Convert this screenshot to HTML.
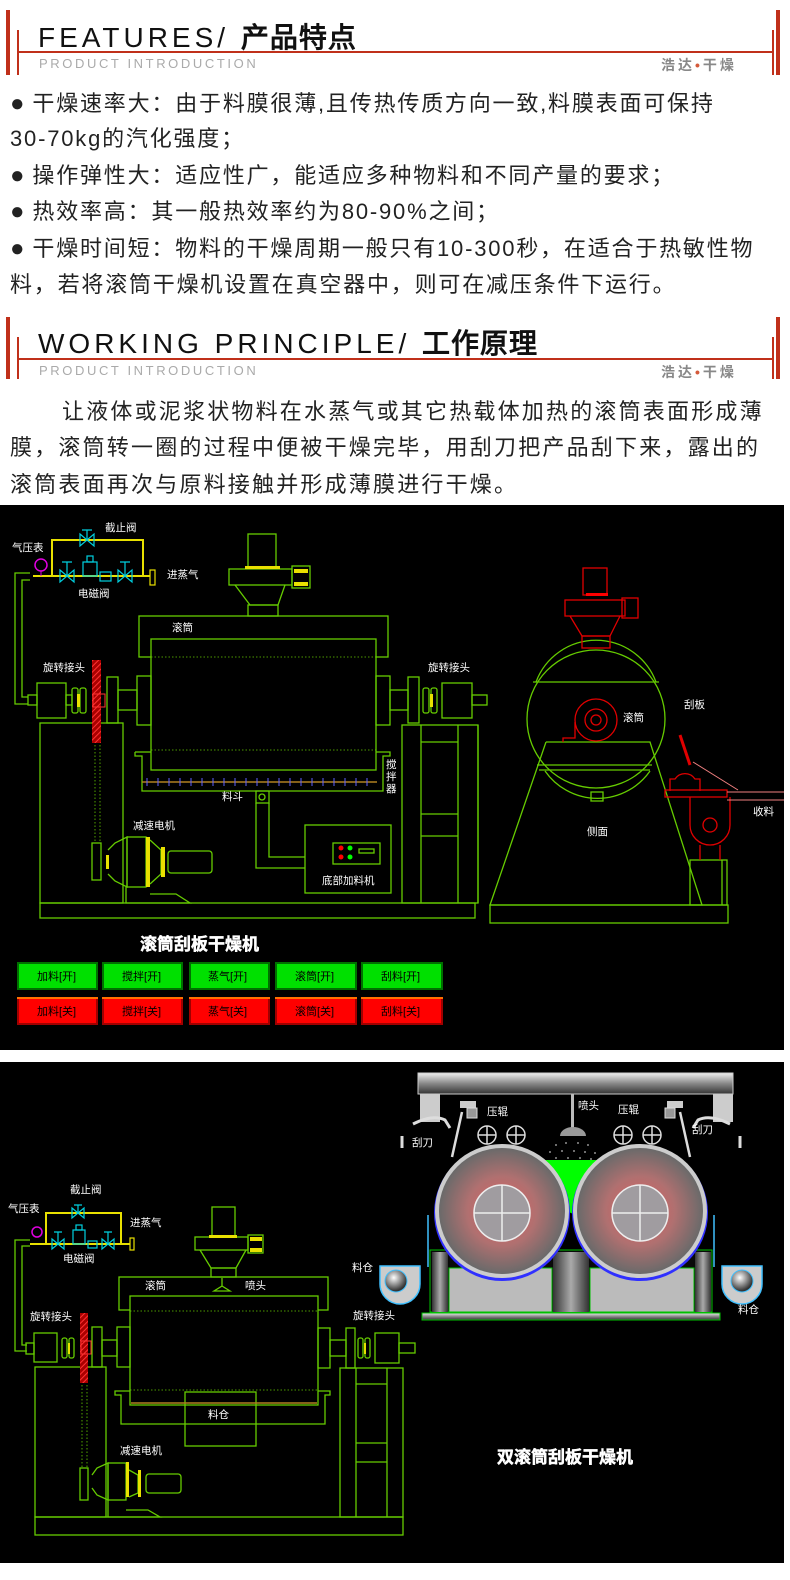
<!DOCTYPE html>
<html><head><meta charset="utf-8">
<style>
*{margin:0;padding:0;box-sizing:border-box}
body{width:790px;height:1580px;background:#fff;position:relative;overflow:hidden;font-family:"Liberation Sans","Noto Sans CJK SC",sans-serif}
.a{position:absolute;white-space:nowrap}
.t{font-size:22px;color:#222;letter-spacing:1.8px;line-height:22px}
.t i{font-style:normal;font-size:24px;font-weight:bold;letter-spacing:0}
.p{font-size:22px;color:#222;letter-spacing:2.2px;line-height:22px}
b{-webkit-text-stroke:1px #111}
</style></head><body>

<!-- header 1 -->
<div class="a" style="left:6px;top:10px;width:4px;height:65px;background:#c0301a"></div>
<div class="a" style="left:17px;top:30px;width:2px;height:45px;background:#c0301a"></div>
<div class="a" style="left:17px;top:51px;width:757px;height:2px;background:#c0301a"></div>
<div class="a" style="left:772px;top:30px;width:2px;height:45px;background:#c0301a"></div>
<div class="a" style="left:776px;top:10px;width:4px;height:65px;background:#c0301a"></div>
<div class="a" style="left:38px;top:16px;font-size:28px;letter-spacing:4px;color:#111;font-weight:300">FEATURES/ <b style="letter-spacing:1px">产品特点</b></div>
<div class="a" style="left:39px;top:56px;font-size:13px;letter-spacing:2.6px;color:#aaa">PRODUCT INTRODUCTION</div>
<div class="a" style="left:661px;top:55px;font-size:14px;letter-spacing:3px;color:#888;font-weight:bold">浩达<span style="color:#d45a3a">•</span>干燥</div>

<div class="a t" style="left:10px;top:93px"><i>●</i>&nbsp;干燥速率大：由于料膜很薄,且传热传质方向一致,料膜表面可保持</div>
<div class="a t" style="left:10px;top:128px">30-70kg的汽化强度；</div>
<div class="a t" style="left:10px;top:165px"><i>●</i>&nbsp;操作弹性大：适应性广，能适应多种物料和不同产量的要求；</div>
<div class="a t" style="left:10px;top:201px"><i>●</i>&nbsp;热效率高：其一般热效率约为80-90%之间；</div>
<div class="a t" style="left:10px;top:238px"><i>●</i>&nbsp;干燥时间短：物料的干燥周期一般只有10-300秒，在适合于热敏性物</div>
<div class="a t" style="left:10px;top:274px">料，若将滚筒干燥机设置在真空器中，则可在减压条件下运行。</div>

<!-- header 2 -->
<div class="a" style="left:6px;top:317px;width:4px;height:62px;background:#c0301a"></div>
<div class="a" style="left:17px;top:337px;width:2px;height:42px;background:#c0301a"></div>
<div class="a" style="left:17px;top:358px;width:757px;height:2px;background:#c0301a"></div>
<div class="a" style="left:772px;top:337px;width:2px;height:42px;background:#c0301a"></div>
<div class="a" style="left:776px;top:317px;width:4px;height:62px;background:#c0301a"></div>
<div class="a" style="left:38px;top:322px;font-size:28px;letter-spacing:4px;color:#111;font-weight:300">WORKING PRINCIPLE/ <b style="letter-spacing:1px">工作原理</b></div>
<div class="a" style="left:39px;top:363px;font-size:13px;letter-spacing:2.6px;color:#aaa">PRODUCT INTRODUCTION</div>
<div class="a" style="left:661px;top:362px;font-size:14px;letter-spacing:3px;color:#888;font-weight:bold">浩达<span style="color:#d45a3a">•</span>干燥</div>

<div class="a p" style="left:62px;top:401px">让液体或泥浆状物料在水蒸气或其它热载体加热的滚筒表面形成薄</div>
<div class="a p" style="left:10px;top:437px">膜，滚筒转一圈的过程中便被干燥完毕，用刮刀把产品刮下来，露出的</div>
<div class="a p" style="left:10px;top:474px">滚筒表面再次与原料接触并形成薄膜进行干燥。</div>

<svg class="a" style="left:0;top:0" width="790" height="1580" viewBox="0 0 790 1580" font-family="Liberation Sans,Noto Sans CJK SC,sans-serif">
<defs>
<radialGradient id="dr" cx="50%" cy="50%" r="50%"><stop offset="0" stop-color="#e06060"/><stop offset="0.55" stop-color="#b07070"/><stop offset="1" stop-color="#6a6a6a"/></radialGradient>
<linearGradient id="bm" x1="0" y1="0" x2="0" y2="1"><stop offset="0" stop-color="#eee"/><stop offset="0.5" stop-color="#888"/><stop offset="1" stop-color="#333"/></linearGradient>
<linearGradient id="col" x1="0" y1="0" x2="1" y2="0"><stop offset="0" stop-color="#333"/><stop offset="0.5" stop-color="#aaa"/><stop offset="1" stop-color="#333"/></linearGradient>
<radialGradient id="ball" cx="40%" cy="35%" r="60%"><stop offset="0" stop-color="#fff"/><stop offset="1" stop-color="#333"/></radialGradient>
<pattern id="hat" width="4" height="4" patternUnits="userSpaceOnUse" patternTransform="rotate(45)"><rect width="4" height="4" fill="#a00"/><line x1="0" y1="0" x2="0" y2="4" stroke="#f33" stroke-width="2"/></pattern>
</defs>

<!-- PANEL 1 -->
<rect x="0" y="505" width="784" height="545" fill="#000"/>
<g fill="none" stroke="#66cc00" stroke-width="1.3">
<polyline points="30,573 15,573 15,704 28,704"/>
<polyline points="30,580 22,580 22,697 28,697"/>
<rect x="248" y="534" width="28" height="34"/>
<rect x="229" y="569" width="63" height="16"/>
<rect x="292" y="566" width="18" height="22"/>
<polyline points="235,585 250,605 278,605 285,585"/>
<rect x="248" y="605" width="30" height="11"/>
<rect x="139" y="616" width="249" height="41"/>
<rect x="151" y="639" width="225" height="131" fill="#000"/>
<polyline points="135,752 135,756 142,756 142,791 383,791 383,756 390,756 390,752 376,752"/>
<line x1="151" y1="752" x2="135" y2="752"/>
<rect x="256" y="791" width="13" height="12"/>
<circle cx="262" cy="797" r="3"/>
<polyline points="256,803 256,868 305,868"/>
<polyline points="269,803 269,857 305,857"/>
<rect x="305" y="825" width="86" height="68"/>
<rect x="333" y="843" width="47" height="21"/>
<rect x="359" y="849" width="15" height="4"/>
<rect x="28" y="695" width="9" height="10"/>
<rect x="37" y="683" width="29" height="35"/>
<rect x="66" y="695" width="6" height="10"/>
<rect x="72" y="688" width="6" height="25" rx="2"/>
<rect x="80" y="688" width="6" height="25" rx="2"/>
<rect x="107" y="677" width="11" height="46"/>
<rect x="118" y="690" width="19" height="20"/>
<rect x="137" y="676" width="14" height="49"/>
<rect x="376" y="676" width="14" height="49"/>
<rect x="390" y="690" width="18" height="20"/>
<rect x="408" y="677" width="11" height="46"/>
<rect x="423" y="688" width="6" height="25" rx="2"/>
<rect x="431" y="688" width="6" height="25" rx="2"/>
<rect x="442" y="683" width="30" height="35"/>
<rect x="472" y="695" width="15" height="10"/>
<rect x="40" y="723" width="83" height="180"/>
<rect x="402" y="725" width="76" height="178"/>
<line x1="421" y1="725" x2="421" y2="903"/><line x1="458" y1="725" x2="458" y2="903"/>
<line x1="421" y1="742" x2="458" y2="742"/><line x1="421" y1="814" x2="458" y2="814"/><line x1="421" y1="836" x2="458" y2="836"/>
<rect x="40" y="903" width="435" height="15"/>
<rect x="92" y="843" width="9" height="37"/>
<polyline points="108,850 115,843 127,837 127,887 115,881 108,874"/>
<rect x="127" y="837" width="19" height="50"/>
<polyline points="150,840 161,850 161,874 150,884"/>
<rect x="168" y="851" width="44" height="22" rx="3"/>
<polyline points="126,887 126,903 190,903 176,894 150,894"/>
<circle cx="596" cy="719" r="69"/>
<path d="M536,682 A64,64 0 0 1 656,682"/>
<line x1="533" y1="682" x2="659" y2="682"/>
<polyline points="546,742 650,742 702,905 490,905 546,742"/>
<line x1="537" y1="765" x2="652" y2="765"/><line x1="539" y1="770" x2="650" y2="770"/>
<path d="M545,771 A64,64 0 0 0 650,771"/>
<rect x="591" y="792" width="12" height="9"/>
<rect x="490" y="905" width="238" height="18"/>
<rect x="690" y="860" width="37" height="45"/>
<line x1="722" y1="860" x2="722" y2="905"/>
<line x1="478" y1="725" x2="478" y2="903"/>
</g>
<g stroke="#66cc00" stroke-width="0.8" stroke-dasharray="1.5,2" fill="none">
<line x1="151" y1="657" x2="376" y2="657"/><line x1="151" y1="750" x2="376" y2="750"/>
<line x1="95" y1="745" x2="95" y2="843"/><line x1="100" y1="745" x2="100" y2="843"/>
</g>
<line x1="142" y1="782" x2="377" y2="782" stroke="#b08020" stroke-width="1.5"/>
<g stroke="#6060ff" stroke-width="1">
<path d="M147,778v8M158,778v8M169,778v8M180,778v8M191,778v8M202,778v8M213,778v8M224,778v8M235,778v8M246,778v8M257,778v8M268,778v8M279,778v8M290,778v8M301,778v8M312,778v8M323,778v8M334,778v8M345,778v8M356,778v8M367,778v8"/>
</g>
<g fill="none" stroke="#e8e000" stroke-width="2">
<line x1="33" y1="576" x2="150" y2="576"/>
<polyline points="52,576 52,540 143,540 143,576"/>
<rect x="150" y="570" width="5" height="15" stroke-width="1.2"/>
</g>
<g fill="#e8e000">
<rect x="245" y="566" width="35" height="3"/><rect x="294" y="569" width="14" height="4"/><rect x="294" y="582" width="14" height="4"/>
<rect x="77" y="694" width="3" height="13"/><rect x="430" y="694" width="3" height="13"/>
<rect x="146" y="837" width="4" height="50"/><rect x="161" y="847" width="4" height="30"/><rect x="106" y="855" width="3" height="14"/>
</g>
<g fill="none" stroke="#00d0e0" stroke-width="1.2">
<path d="M60,570 l14,12 v-12 l-14,12z M118,570 l14,12 v-12 l-14,12z M80,534 l14,12 v-12 l-14,12z"/>
<path d="M67,576v-14h-5h10 M125,576v-14h-5h10 M87,540v-10h-5h10"/>
<rect x="83" y="562" width="14" height="14"/><rect x="87" y="556" width="6" height="6"/>
<rect x="100" y="572" width="11" height="9"/>
</g>
<circle cx="41" cy="565" r="6" fill="none" stroke="#e000e0" stroke-width="1.5"/>
<line x1="41" y1="571" x2="41" y2="576" stroke="#e000e0"/>
<rect x="92" y="660" width="9" height="83" fill="url(#hat)"/>
<rect x="93" y="694" width="12" height="13" fill="none" stroke="#f33"/>
<g fill="#f00" stroke="none"><circle cx="341" cy="848" r="2.5"/><circle cx="341" cy="857" r="2.5"/></g>
<g fill="#0f0"><circle cx="350" cy="848" r="2.5"/><circle cx="350" cy="857" r="2.5"/></g>
<g fill="none" stroke="#e00000" stroke-width="1.3">
<rect x="583" y="568" width="24" height="27"/>
<rect x="565" y="600" width="60" height="16"/>
<rect x="622" y="598" width="16" height="20"/>
<polyline points="570,616 582,636 610,636 620,616"/>
<rect x="582" y="636" width="28" height="12"/>
<circle cx="596" cy="720" r="21"/><circle cx="596" cy="720" r="11"/><circle cx="596" cy="720" r="5"/>
<polyline points="563,742 563,738 575,738 575,722 M617,722 617,738 630,738 630,742"/>
<line x1="680" y1="735" x2="690" y2="765" stroke-width="3"/>
<path d="M670,791 v-12 h5 a12,12 0 0 1 20,0 h5 v12"/>
<rect x="665" y="790" width="62" height="7"/>
<path d="M690,797 v28 a20,20 0 0 0 40,0 v-28"/>
<circle cx="710" cy="825" r="7"/>
<line x1="700" y1="845" x2="700" y2="860"/><line x1="720" y1="845" x2="720" y2="860"/>
</g>
<g stroke="#f08080" fill="none"><line x1="693" y1="762" x2="738" y2="790"/><line x1="727" y1="792" x2="784" y2="792"/><line x1="727" y1="800" x2="784" y2="800"/></g>
<rect x="586" y="593" width="22" height="3" fill="#f00"/>
<g fill="#fff" font-size="10.5">
<text x="12" y="551">气压表</text><text x="105" y="531">截止阀</text><text x="167" y="578">进蒸气</text><text x="78" y="597">电磁阀</text>
<text x="172" y="631">滚筒</text><text x="43" y="671">旋转接头</text><text x="428" y="671">旋转接头</text>
<text x="386" y="768">搅</text><text x="386" y="780">拌</text><text x="386" y="792">器</text>
<text x="222" y="800">料斗</text><text x="133" y="829">减速电机</text><text x="322" y="884">底部加料机</text>
<text x="623" y="721">滚筒</text><text x="684" y="708">刮板</text><text x="587" y="835">侧面</text><text x="753" y="815">收料</text>
</g>
<text x="140" y="950" fill="#fff" font-size="17" font-weight="bold" stroke="#fff" stroke-width="0.5">滚筒刮板干燥机</text>
<g font-size="11" fill="#000">
<g stroke-width="2">
<rect x="18" y="963" width="79" height="26" fill="#00e000" stroke="#007000"/><rect x="103" y="963" width="79" height="26" fill="#00e000" stroke="#007000"/><rect x="190" y="963" width="79" height="26" fill="#00e000" stroke="#007000"/><rect x="276" y="963" width="80" height="26" fill="#00e000" stroke="#007000"/><rect x="362" y="963" width="80" height="26" fill="#00e000" stroke="#007000"/>
<rect x="18" y="998" width="79" height="26" fill="#ff0000" stroke="#a00000"/><rect x="103" y="998" width="79" height="26" fill="#ff0000" stroke="#a00000"/><rect x="190" y="998" width="79" height="26" fill="#ff0000" stroke="#a00000"/><rect x="276" y="998" width="80" height="26" fill="#ff0000" stroke="#a00000"/><rect x="362" y="998" width="80" height="26" fill="#ff0000" stroke="#a00000"/>
</g>
<g fill="#ff7000"><rect x="17" y="997" width="81" height="2"/><rect x="102" y="997" width="81" height="2"/><rect x="189" y="997" width="81" height="2"/><rect x="275" y="997" width="82" height="2"/><rect x="361" y="997" width="82" height="2"/></g>
<text x="37" y="980">加料[开]</text><text x="122" y="980">搅拌[开]</text><text x="208" y="980">蒸气[开]</text><text x="295" y="980">滚筒[开]</text><text x="381" y="980">刮料[开]</text>
<text x="37" y="1015">加料[关]</text><text x="122" y="1015">搅拌[关]</text><text x="208" y="1015">蒸气[关]</text><text x="295" y="1015">滚筒[关]</text><text x="381" y="1015">刮料[关]</text>
</g>

<!-- PANEL 2 -->
<rect x="0" y="1062" width="784" height="501" fill="#000"/>
<g fill="none" stroke="#66cc00" stroke-width="1.3">
<polyline points="30,1240 15,1240 15,1351 27,1351"/>
<polyline points="30,1246 22,1246 22,1345 27,1345"/>
<rect x="212" y="1207" width="23" height="30"/>
<rect x="195" y="1237" width="53" height="13"/>
<rect x="248" y="1235" width="15" height="18"/>
<polyline points="200,1250 211,1268 236,1268 246,1250"/>
<rect x="211" y="1268" width="25" height="9"/>
<rect x="119" y="1277" width="209" height="33"/>
<rect x="130" y="1296" width="188" height="109" fill="#000"/>
<polyline points="130,1391 115,1391 115,1395 121,1395 121,1424 325,1424 325,1395 330,1395 330,1391 318,1391"/>
<rect x="185" y="1392" width="71" height="54"/>
<path d="M222,1278 v8 l-8,5 h16 l-8,-5"/>
<rect x="26" y="1343" width="8" height="11"/>
<rect x="34" y="1333" width="23" height="29"/>
<rect x="62" y="1338" width="5" height="20" rx="2"/><rect x="69" y="1338" width="5" height="20" rx="2"/>
<rect x="92" y="1327" width="10" height="40"/>
<rect x="102" y="1340" width="15" height="16"/>
<rect x="117" y="1327" width="13" height="40"/>
<rect x="318" y="1328" width="12" height="40"/>
<rect x="330" y="1340" width="16" height="16"/>
<rect x="346" y="1328" width="9" height="40"/>
<rect x="358" y="1338" width="5" height="20" rx="2"/><rect x="365" y="1338" width="5" height="20" rx="2"/>
<rect x="375" y="1333" width="24" height="30"/>
<rect x="399" y="1343" width="16" height="10"/>
<rect x="35" y="1367" width="71" height="150"/>
<rect x="340" y="1368" width="63" height="149"/>
<line x1="356" y1="1368" x2="356" y2="1517"/><line x1="387" y1="1368" x2="387" y2="1517"/>
<line x1="356" y1="1384" x2="387" y2="1384"/><line x1="356" y1="1443" x2="387" y2="1443"/><line x1="356" y1="1462" x2="387" y2="1462"/>
<rect x="35" y="1517" width="368" height="18"/>
<rect x="80" y="1468" width="8" height="32"/>
<polyline points="92,1475 97,1468 108,1463 108,1500 97,1495 92,1488"/>
<rect x="108" y="1463" width="18" height="37"/>
<polyline points="129,1470 138,1475 138,1493 129,1497"/>
<rect x="146" y="1474" width="35" height="19" rx="3"/>
<polyline points="108,1500 108,1517 160,1517 148,1510 126,1510"/>
</g>
<g stroke="#66cc00" stroke-width="0.8" stroke-dasharray="1.5,2" fill="none">
<line x1="130" y1="1311" x2="318" y2="1311"/><line x1="130" y1="1390" x2="318" y2="1390"/>
<line x1="82" y1="1385" x2="82" y2="1468"/><line x1="87" y1="1385" x2="87" y2="1468"/>
</g>
<line x1="131" y1="1403" x2="317" y2="1403" stroke="#b08020" stroke-width="1.5"/>
<g fill="none" stroke="#e8e000" stroke-width="2">
<line x1="30" y1="1244" x2="130" y2="1244"/>
<polyline points="46,1244 46,1213 121,1213 121,1244"/>
<rect x="130" y="1238" width="4" height="12" stroke-width="1.2"/>
</g>
<g fill="#e8e000">
<rect x="209" y="1235" width="28" height="3"/><rect x="250" y="1237" width="12" height="4"/><rect x="250" y="1248" width="12" height="4"/>
<rect x="68" y="1343" width="2" height="11"/><rect x="364" y="1343" width="2" height="11"/>
<rect x="126" y="1462" width="3" height="35"/><rect x="138" y="1470" width="3" height="27"/>
</g>
<g fill="none" stroke="#00d0e0" stroke-width="1.2">
<path d="M52,1239 l12,10 v-10 l-12,10z M102,1239 l12,10 v-10 l-12,10z M72,1208 l12,10 v-10 l-12,10z"/>
<path d="M58,1244v-12h-4h8 M108,1244v-12h-4h8 M78,1213v-8h-4h8"/>
<rect x="73" y="1230" width="12" height="14"/><rect x="76" y="1225" width="6" height="5"/><rect x="88" y="1241" width="9" height="7"/>
</g>
<circle cx="37" cy="1232" r="5" fill="none" stroke="#e000e0" stroke-width="1.5"/>
<rect x="80" y="1313" width="8" height="70" fill="url(#hat)"/>
<rect x="81" y="1341" width="10" height="13" fill="none" stroke="#f33"/>

<rect x="418" y="1073" width="315" height="21" fill="url(#bm)" stroke="#ccc"/>
<rect x="420" y="1094" width="20" height="28" fill="#ccc"/><rect x="713" y="1094" width="20" height="28" fill="#ccc"/>
<rect x="571" y="1094" width="3" height="34" fill="#bbb"/>
<path d="M560,1136 a13,9 0 0 1 26,0z" fill="#999"/>
<g fill="#bbb"><circle cx="556" cy="1145" r="0.9"/><circle cx="566" cy="1143" r="0.9"/><circle cx="578" cy="1143" r="0.9"/><circle cx="588" cy="1145" r="0.9"/><circle cx="550" cy="1152" r="0.9"/><circle cx="562" cy="1151" r="0.9"/><circle cx="574" cy="1151" r="0.9"/><circle cx="585" cy="1152" r="0.9"/><circle cx="595" cy="1153" r="0.9"/><circle cx="556" cy="1158" r="0.9"/><circle cx="568" cy="1158" r="0.9"/><circle cx="580" cy="1158" r="0.9"/><circle cx="591" cy="1159" r="0.9"/></g>
<polygon points="545,1160 600,1160 575,1215 565,1210" fill="#00ff00"/>
<rect x="430" y="1250" width="282" height="62" fill="#0a0a0a" stroke="#00c000"/>
<rect x="449" y="1268" width="103" height="44" fill="#bbb" stroke="#00c000"/>
<rect x="590" y="1268" width="104" height="44" fill="#bbb" stroke="#00c000"/>
<rect x="432" y="1252" width="16" height="60" fill="url(#col)"/><rect x="553" y="1252" width="36" height="60" fill="url(#col)"/><rect x="695" y="1252" width="16" height="60" fill="url(#col)"/>
<rect x="422" y="1313" width="298" height="7" fill="url(#bm)" stroke="#00c000"/>
<circle cx="502" cy="1213" r="68" fill="#3030ff"/>
<circle cx="640" cy="1213" r="68" fill="#3030ff"/>
<circle cx="502" cy="1211" r="67" fill="#ccc"/>
<circle cx="640" cy="1211" r="67" fill="#ccc"/>
<circle cx="502" cy="1211" r="63" fill="url(#dr)"/>
<circle cx="640" cy="1211" r="63" fill="url(#dr)"/>
<g fill="#a09ca0" stroke="#eee" stroke-width="1.5">
<circle cx="502" cy="1213" r="28"/><circle cx="640" cy="1213" r="28"/>
<path d="M502,1185v56M474,1213h56M640,1185v56M612,1213h56" fill="none"/>
</g>
<g fill="none" stroke="#ddd" stroke-width="1.5">
<circle cx="487" cy="1135" r="9"/><circle cx="516" cy="1135" r="9"/><circle cx="623" cy="1135" r="9"/><circle cx="652" cy="1135" r="9"/>
<path d="M487,1126v18M478,1135h18M516,1126v18M507,1135h18M623,1126v18M614,1135h18M652,1126v18M643,1135h18"/>
<line x1="462" y1="1112" x2="452" y2="1157" stroke-width="2.5"/>
<line x1="680" y1="1112" x2="690" y2="1157" stroke-width="2.5"/>
<path d="M413,1124 q20,-10 32,-4 l5,8" stroke-width="3"/>
<path d="M730,1124 q-20,-10 -32,-4 l-5,8" stroke-width="3"/>
<line x1="402" y1="1136" x2="402" y2="1148" stroke-width="3"/>
<line x1="740" y1="1136" x2="740" y2="1148" stroke-width="3"/>
</g>
<rect x="460" y="1101" width="16" height="7" fill="#ccc"/><rect x="467" y="1108" width="10" height="10" fill="#999" stroke="#ddd"/>
<rect x="667" y="1101" width="16" height="7" fill="#ccc"/><rect x="665" y="1108" width="10" height="10" fill="#999" stroke="#ddd"/>
<g stroke="#40c0ff" stroke-width="1.5" fill="#ccc">
<path d="M380,1266 h40 v18 a20,20 0 0 1 -40,0z"/>
<path d="M722,1266 h40 v18 a20,20 0 0 1 -40,0z"/>
</g>
<path d="M428,1215 v52" stroke="#40c0ff" fill="none" stroke-width="1.5"/>
<path d="M714,1215 v52" stroke="#40c0ff" fill="none" stroke-width="1.5"/>
<circle cx="396" cy="1281" r="11" fill="url(#ball)" stroke="#40c0ff"/>
<circle cx="742" cy="1281" r="11" fill="url(#ball)" stroke="#40c0ff"/>

<g fill="#fff" font-size="10.5">
<text x="70" y="1193">截止阀</text><text x="8" y="1212">气压表</text><text x="130" y="1226">进蒸气</text><text x="63" y="1262">电磁阀</text>
<text x="145" y="1289">滚筒</text><text x="245" y="1289">喷头</text><text x="30" y="1320">旋转接头</text><text x="353" y="1319">旋转接头</text>
<text x="208" y="1418">料仓</text><text x="120" y="1454">减速电机</text><text x="352" y="1271">料仓</text>
<text x="487" y="1115">压辊</text><text x="618" y="1113">压辊</text><text x="578" y="1109">喷头</text>
<text x="412" y="1146">刮刀</text><text x="692" y="1133">刮刀</text><text x="738" y="1313">料仓</text>
</g>
<text x="497" y="1463" fill="#fff" font-size="17" font-weight="bold" stroke="#fff" stroke-width="0.5">双滚筒刮板干燥机</text>
</svg>
</body></html>
